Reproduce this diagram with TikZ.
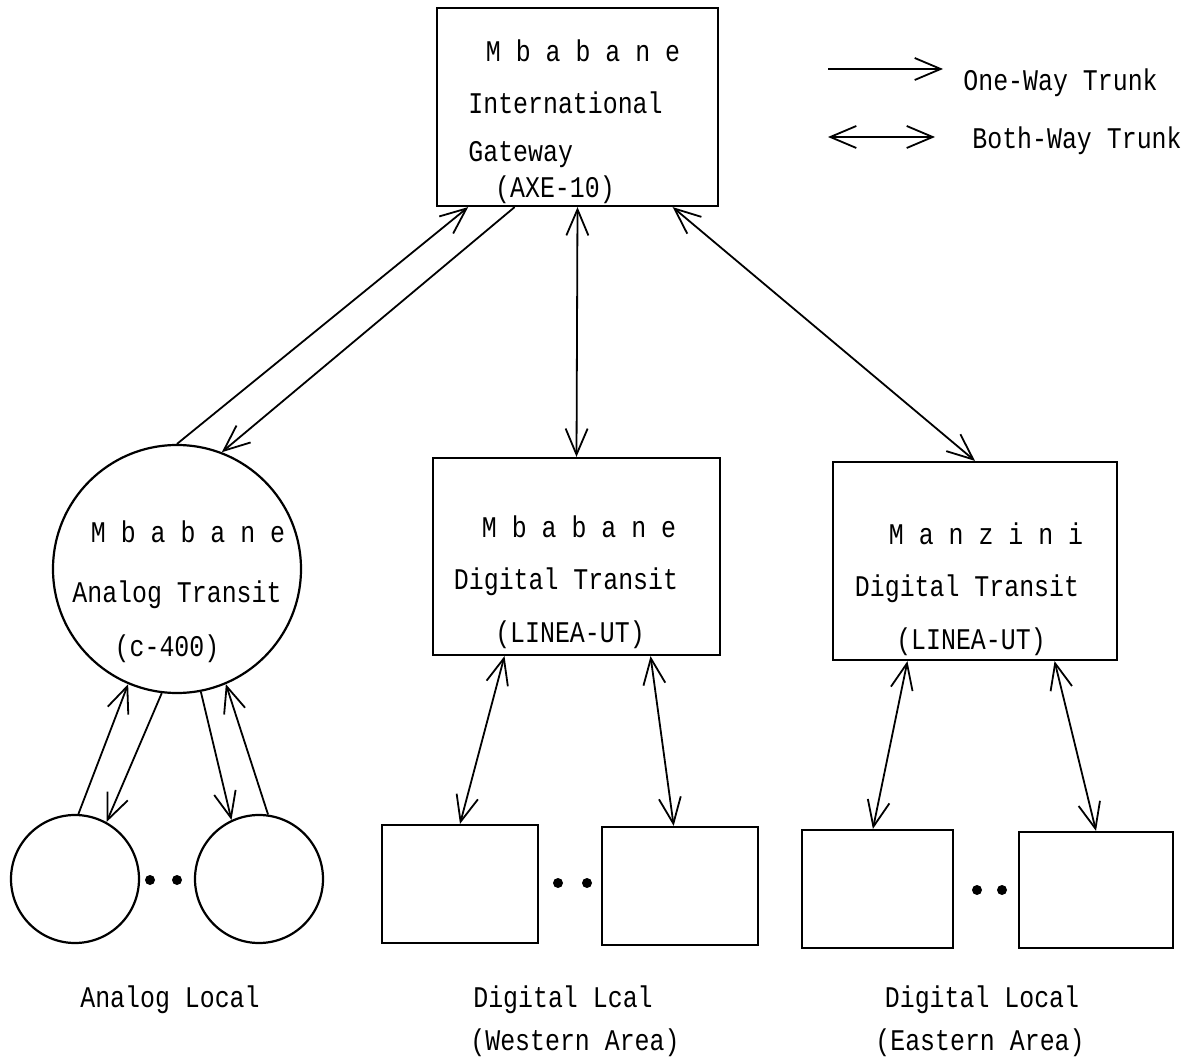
\documentclass[tikz,border=0pt]{standalone}
\usepackage{fontspec}
\setmainfont[FakeStretch=0.83]{Liberation Mono}
\usetikzlibrary{calc}
\usetikzlibrary{arrows.meta}

\begin{document}
\begin{tikzpicture}[x=0.5pt, y=-0.5pt, >={Straight Barb[length=13pt,width=11pt]},
		every node/.style={font=\fontsize{15}{18}\selectfont}]
	\tikzset{exch/.style={draw, line width=1.1pt, inner sep=0pt},
		lbl/.style={inner sep=0pt, text height=10pt, text depth=0pt},
		trunk/.style={line width=0.9pt},
		dot/.style={circle, fill, inner sep=0pt, minimum size=5pt}}
	\useasboundingbox (0,0) rectangle (1189,1063);
	\node[exch, minimum width=140.5pt, minimum height=99pt] (gw) at (577.5,107) {};
	\node[lbl] (gwt1) at (583,52) {M b a b a n e};
	\node[lbl, anchor=west] (gwt2) at (468,104) {International};
	\node[lbl, anchor=west] (gwt3) at (468,152) {Gateway};
	\node[lbl] (gwt4) at (555,188) {(AXE-10)};
	\node[exch, circle, minimum size=124pt] (at) at (177,569) {};
	\node[lbl] (att1) at (188,533) {M b a b a n e};
	\node[lbl] (att2) at (177,593) {Analog Transit};
	\node[lbl] (att3) at (167,647) {(c-400)};
	\node[exch, minimum width=143.5pt, minimum height=98.5pt] (dtw) at (576.5,556.5) {};
	\node[lbl] (dtwt1) at (579,528) {M b a b a n e};
	\node[lbl] (dtwt2) at (566,580) {Digital Transit};
	\node[lbl] (dtwt3) at (570,633) {(LINEA-UT)};
	\node[exch, minimum width=142pt, minimum height=99pt] (dte) at (975,561) {};
	\node[lbl] (dtet1) at (986,535) {M a n z i n i};
	\node[lbl] (dtet2) at (967,587) {Digital Transit};
	\node[lbl] (dtet3) at (971,640) {(LINEA-UT)};
	\node[exch, circle, minimum size=64pt] (al1) at (75,879) {};
	\node[exch, circle, minimum size=64pt] (al2) at (259,879) {};
	\node[dot] (d1) at (150,880) {};
	\node[dot] (d2) at (177,880) {};
	\node[exch, minimum width=78pt, minimum height=59pt] (lw1) at (460,884) {};
	\node[exch, minimum width=78pt, minimum height=59pt] (lw2) at (680,886) {};
	\node[dot] (d3) at (558,883) {};
	\node[dot] (d4) at (587,883) {};
	\node[exch, minimum width=75.5pt, minimum height=59pt] (le1) at (877.5,889) {};
	\node[exch, minimum width=77pt, minimum height=58pt] (le2) at (1096,890) {};
	\node[dot] (d5) at (977,890) {};
	\node[dot] (d6) at (1002,890) {};
	\node[lbl] (alt) at (170,997) {Analog Local};
	\node[lbl] (lwt1) at (563,997) {Digital Lcal};
	\node[lbl] (lwt2) at (575,1040) {(Western Area)};
	\node[lbl] (let1) at (982,997) {Digital Local};
	\node[lbl] (let2) at (980,1040) {(Eastern Area)};
	\draw[trunk,->] (at.90) -- ($(gw.south west)!0.114!(gw.south east)$);
	\draw[trunk,->] ($(gw.south west)!0.278!(gw.south east)$) -- (at.69);
	\draw[trunk,<->] (gw.south) -- (dtw.north);
	\draw[trunk,<->] ($(gw.south west)!0.836!(gw.south east)$) -- (dte.north);
	\draw[trunk,->] (al1.87) -- (at.-113);
	\draw[trunk,->] (at.-97) -- (al1.61);
	\draw[trunk,->] (at.-79) -- (al2.115);
	\draw[trunk,->] (al2.82) -- (at.-67);
	\draw[trunk,<->] ($(dtw.south west)!0.251!(dtw.south east)$) -- (lw1.north);
	\draw[trunk,<->] ($(dtw.south west)!0.756!(dtw.south east)$) -- ($(lw2.north west)!0.46!(lw2.north east)$);
	\draw[trunk,<->] ($(dte.south west)!0.264!(dte.south east)$) -- ($(le1.north west)!0.47!(le1.north east)$);
	\draw[trunk,<->] ($(dte.south west)!0.778!(dte.south east)$) -- (le2.north);
	\coordinate (ow1) at (828,69);
	\coordinate (ow2) at (943,69);
	\coordinate (bw1) at (828,137);
	\coordinate (bw2) at (935,137);
	\draw[trunk,->] (ow1) -- (ow2);
	\draw[trunk,<->] (bw1) -- (bw2);
	\node[lbl, anchor=west] (owt) at (963,81) {One-Way Trunk};
	\node[lbl, anchor=west] (bwt) at (972,139) {Both-Way Trunk};
\end{tikzpicture}
\end{document}
